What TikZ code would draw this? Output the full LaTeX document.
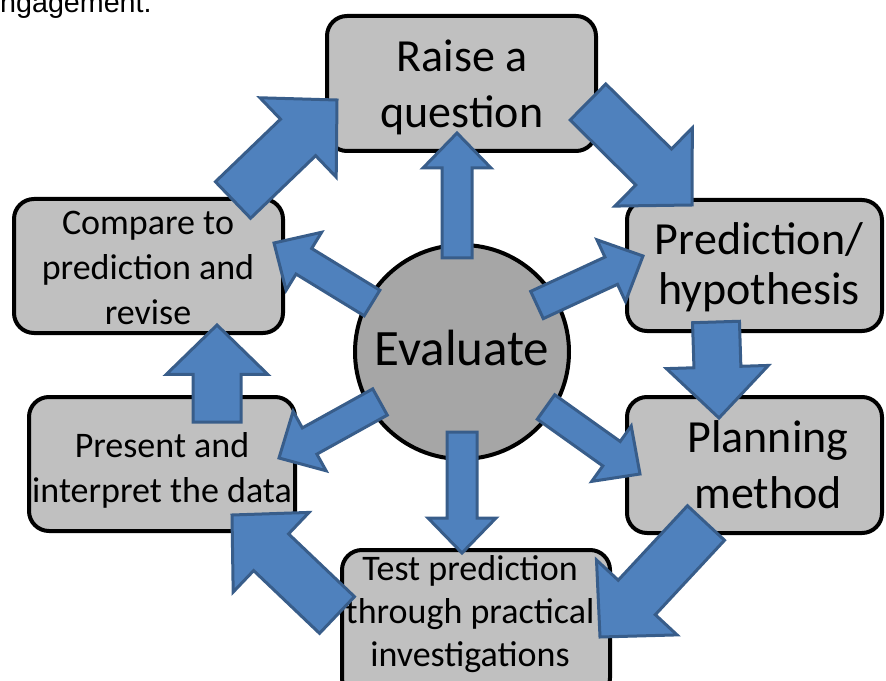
\documentclass[tikz,border=0pt]{standalone}
\usepackage{fontspec}
\setmainfont{Carlito}
\newfontfamily\arialfont{Liberation Sans}
\usetikzlibrary{calc}
\definecolor{arrowfill}{HTML}{4F81BD}
\definecolor{arrowline}{HTML}{385D8A}
\definecolor{boxfill}{HTML}{C0C0C0}
\definecolor{circfill}{HTML}{A6A6A6}
\tikzset{
  stepbox/.style={draw=black, line width=3pt, fill=boxfill, rounded corners=15pt, inner sep=0pt},
  barrow/.style={draw=arrowline, fill=arrowfill, line width=2.25pt, line join=miter},
  lbl/.style={inner sep=0pt, align=center, anchor=base},
  bigtext/.style={font=\fontsize{34.5}{42}\selectfont},
  smalltext/.style={font=\fontsize{27}{33.75}\selectfont},
}
% tail, tip, shaft half-width, head half-width, head length
\newcommand{\blockarrow}[5]{%
  \coordinate (hb) at ($(#2)!#5!(#1)$);
  \draw[barrow] ($(#1)!#3!90:(#2)$) -- ($(hb)!#3!90:(#2)$) -- ($(hb)!#4!90:(#2)$) -- (#2)
     -- ($(hb)!#4!-90:(#2)$) -- ($(hb)!#3!-90:(#2)$) -- ($(#1)!#3!-90:(#2)$) -- cycle;
}
\begin{document}
\begin{tikzpicture}[x=0.75pt, y=-0.75pt]
\useasboundingbox (0,0) rectangle (886,681);
\node[inner sep=0pt, anchor=base west, font=\arialfont\fontsize{21.5}{25}\selectfont] (eng) at (-16,13) {engagement.};

% boxes
\node[stepbox, minimum width=201.75pt, minimum height=101.25pt] (raise) at (461.5,83.5) {};
\node[stepbox, minimum width=201.75pt, minimum height=100.5pt] (compare) at (148.5,266) {};
\node[stepbox, minimum width=191.25pt, minimum height=98.25pt] (pred) at (754.5,265.5) {};
\node[stepbox, minimum width=199.5pt, minimum height=100.5pt] (present) at (162,464) {};
\node[stepbox, minimum width=191.25pt, minimum height=102pt] (plan) at (754.5,465) {};
\node[stepbox, minimum width=201pt, minimum height=111pt] (test) at (476,624) {};
\node[circle, draw=black, line width=3pt, fill=circfill, minimum size=160.5pt, inner sep=0pt] (eval) at (462,352) {};

% labels (anchor = baseline of the last line)
\node[lbl, bigtext] (raiseT) at (462,128) {Raise a\\question};
\node[lbl, smalltext] (compareT) at (148,325) {Compare to\\prediction and\\revise};
\node[lbl, bigtext, font=\fontsize{34.5}{37.5}\selectfont] (predT) at (759,305) {Prediction/\\hypothesis};
\node[lbl, smalltext] (presentT) at (162,502) {Present and\\interpret the data};
\node[lbl, bigtext] (planT) at (768,508) {Planning\\method};
\node[lbl, smalltext, font=\fontsize{27}{32.25}\selectfont] (testT) at (470,666) {Test prediction\\through practical\\investigations};
\node[lbl, font=\fontsize{38.25}{46}\selectfont] (evalT) at (462,365) {Evaluate};

% arrow end points
\coordinate (a1s) at (457,258); \coordinate (a1e) at (457,133);
\coordinate (a2s) at (537,305); \coordinate (a2e) at (643,256);
\coordinate (a3s) at (546,407); \coordinate (a3e) at (640,474);
\coordinate (a4s) at (462,432); \coordinate (a4e) at (462,553);
\coordinate (a5s) at (380,402); \coordinate (a5e) at (279,458);
\coordinate (a6s) at (372,303); \coordinate (a6e) at (274,243);
\coordinate (b1s) at (588,102); \coordinate (b1e) at (692,205);
\coordinate (b2s) at (716,322); \coordinate (b2e) at (719,418);
\coordinate (b3s) at (706,523); \coordinate (b3e) at (600,637);
\coordinate (b4s) at (337,615); \coordinate (b4e) at (232,515);
\coordinate (b5s) at (217,422); \coordinate (b5e) at (217,325);
\coordinate (b6s) at (233,200); \coordinate (b6e) at (337,100);

% small arrows from Evaluate
\blockarrow{a1s}{a1e}{11.25pt}{25.5pt}{26.25pt}
\blockarrow{a2s}{a2e}{11.25pt}{25.5pt}{26.25pt}
\blockarrow{a3s}{a3e}{11.25pt}{25.5pt}{26.25pt}
\blockarrow{a4s}{a4e}{11.25pt}{25.5pt}{26.25pt}
\blockarrow{a5s}{a5e}{11.25pt}{25.5pt}{26.25pt}
\blockarrow{a6s}{a6e}{11.25pt}{25.5pt}{26.25pt}
% big cycle arrows
\blockarrow{b1s}{b1e}{19pt}{41.25pt}{40.5pt}
\blockarrow{b2s}{b2e}{17.6pt}{38.25pt}{38.25pt}
\blockarrow{b3s}{b3e}{19pt}{41.25pt}{40.5pt}
\blockarrow{b4s}{b4e}{19pt}{41.25pt}{40.5pt}
\blockarrow{b5s}{b5e}{18pt}{38pt}{37pt}
\blockarrow{b6s}{b6e}{19pt}{41.25pt}{40.5pt}
\end{tikzpicture}
\end{document}
